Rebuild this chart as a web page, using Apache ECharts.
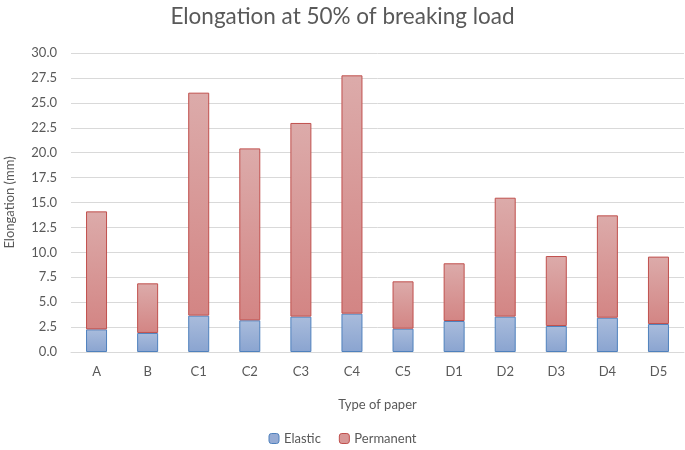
<!DOCTYPE html>
<html><head><meta charset="utf-8">
<script src="https://cdn.jsdelivr.net/npm/echarts@6/dist/echarts.min.js"></script>
<style>html,body{margin:0;padding:0;background:#fff}#c{width:685px;height:450px}</style>
</head><body><div id="c"></div>
<script>
var categories = ['A','B','C1','C2','C3','C4','C5','D1','D2','D3','D4','D5'];
var elastic = [2.27,1.91,3.65,3.18,3.55,3.85,2.34,3.11,3.55,2.61,3.44,2.81];
var permanent = [11.84,4.98,22.37,17.25,19.43,23.91,4.75,5.79,11.93,7.02,10.27,6.76];
var yTicks = {min:0, max:30, interval:2.5};

var FONT = 'Lato, "Open Sans", sans-serif';
var chart = echarts.init(document.getElementById('c'), null, {renderer:'canvas'});
function grad(top, bottom){
  return new echarts.graphic.LinearGradient(0,0,0,1,[{offset:0,color:top},{offset:1,color:bottom}]);
}
chart.setOption({
  animation:false,
  backgroundColor:'#fff',
  title:{text:'Elongation at 50% of breaking load', left:'center', top:0,
    textStyle:{fontFamily:FONT, fontSize:22.5, fontWeight:'normal', color:'#595959'}},
  legend:{bottom:0, left:'center', itemWidth:10, itemHeight:10, itemGap:18,
    textStyle:{fontFamily:FONT, fontSize:13, color:'#595959'},
    data:[{name:'Elastic', itemStyle:{color:'#95abd4', borderColor:'#4f81bd', borderWidth:1}},
          {name:'Permanent', itemStyle:{color:'#d89796', borderColor:'#c0504d', borderWidth:1}}]},
  grid:{left:71, right:1, top:53, bottom:98, containLabel:false, outerBoundsMode:'none'},
  xAxis:{type:'category', data:categories, name:'Type of paper', nameLocation:'middle', nameGap:46,
    nameTextStyle:{fontFamily:FONT, fontSize:13, color:'#595959'},
    axisLine:{lineStyle:{color:'#d9d9d9'}}, axisTick:{show:false},
    axisLabel:{fontFamily:FONT, fontSize:13, color:'#595959', margin:13}},
  yAxis:{type:'value', min:yTicks.min, max:yTicks.max, interval:yTicks.interval,
    name:'Elongation (mm)', nameLocation:'middle', nameGap:55,
    nameTextStyle:{fontFamily:FONT, fontSize:13, color:'#595959'},
    axisLabel:{fontFamily:FONT, fontSize:13, color:'#595959', formatter:function(v){return v.toFixed(1);}, margin:14},
    splitLine:{lineStyle:{color:'#d9d9d9'}}, axisLine:{show:false}, axisTick:{show:false}},
  series:[
    {name:'Elastic', type:'bar', stack:'s', data:elastic, barWidth:21,
      itemStyle:{color:grad('#a9bcdc','#8aa4d0'), borderColor:'#4f81bd', borderWidth:1}},
    {name:'Permanent', type:'bar', stack:'s', data:permanent, barWidth:21,
      itemStyle:{color:grad('#dcabaa','#d38584'), borderColor:'#c0504d', borderWidth:1}}
  ]
});
</script></body></html>
